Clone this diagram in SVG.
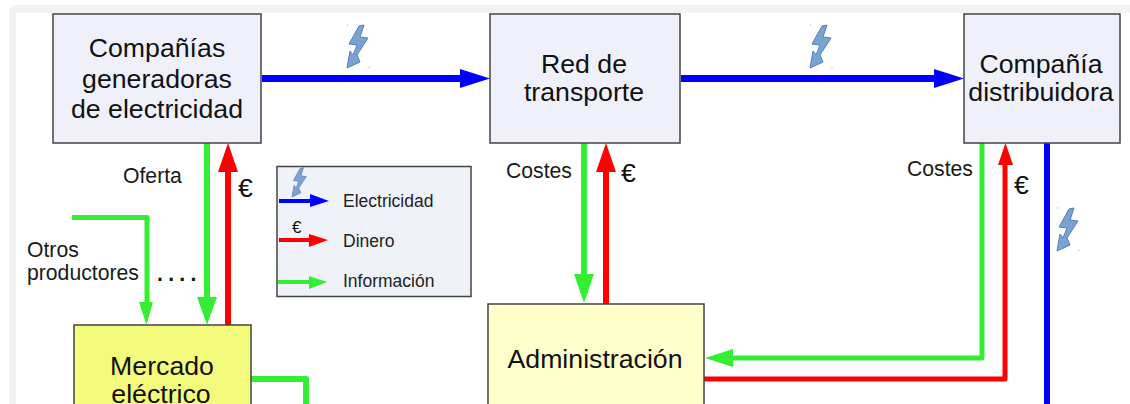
<svg xmlns="http://www.w3.org/2000/svg" width="1130" height="404" viewBox="0 0 1130 404">
<style>
text{font-family:"Liberation Sans",Arial,sans-serif;fill:#1a1a1a}
.node{stroke:#444;stroke-width:1.5}
.big{font-size:26.7px;text-anchor:middle;fill:#111}
.lab{font-size:21.2px}
.leg{font-size:17.5px;fill:#222}
.eur{font-size:26.500px;fill:#111}
.c{fill:none;stroke-linejoin:round}
.b{stroke:#0000ff}.r{stroke:#ff0000}.g{stroke:#33ee33}
.w7{stroke-width:7}.w6{stroke-width:6}.w5{stroke-width:5}
</style>
<defs>
<g id="bolt">
<polygon points="12,2 17,1 13,13 21,14 10,31 13,38 0,44 3,27 6,31 10,21 2,20" fill="#7ba3d0" stroke="#4f81bd" stroke-width="1"/>
<circle cx="0.500" cy="1" r="0.800" fill="#b5c8df"/>
<circle cx="22" cy="43.500" r="0.800" fill="#b5c8df"/>
</g>
</defs>
<rect width="1130" height="404" fill="#ffffff"/>
<path d="M9 404V12Q9 5 16 5H1130V13H16V404Z" fill="#f2f2f2"/>
<g id="connectors">
<path class="c b w7" d="M262 78.500H462"/><polygon fill="#0000ff" points="460,69 490,78.500 460,88"/>
<path class="c b w7" d="M681 78.500H936"/><polygon fill="#0000ff" points="934,69 964,78.500 934,88"/>
<path class="c b w6" d="M1047 143V404"/>
<path class="c g w6" d="M207 143V300"/><polygon fill="#33ee33" points="197,297 217,297 207,325"/>
<path class="c r w6" d="M228 325V170"/><polygon fill="#ff0000" points="218,172 238,172 228,143"/>
<path class="c g w5" d="M72 217.500H147V305"/><polygon fill="#33ee33" points="139,302 153,302 146.500,325" />
<path class="c g w6" d="M584 143V278"/><polygon fill="#33ee33" points="574,274 594,274 584,303"/>
<path class="c r w6" d="M606 304V170"/><polygon fill="#ff0000" points="596,172 616,172 606,143"/>
<path class="c g w5" d="M982 143V358H730"/><polygon fill="#33ee33" points="733,349 733,367 705,358"/>
<path class="c r w5" d="M704 379H1005V165"/><polygon fill="#ff0000" points="998,165 1013,165 1005.500,143"/>
<path class="c g w6" d="M251 379H306V404"/>
</g>
<g id="node-generadoras">
<rect class="node" x="53" y="14" width="208" height="129" fill="#f0f0fb"/>
<text class="big" x="157" y="57">Compañías</text>
<text class="big" x="157" y="88">generadoras</text>
<text class="big" x="157" y="118">de electricidad</text>
</g>
<g id="node-transporte">
<rect class="node" x="490" y="14" width="190" height="129" fill="#f0f0fb"/>
<text class="big" x="584" y="73">Red de</text>
<text class="big" x="584" y="101">transporte</text>
</g>
<g id="node-distribuidora">
<rect class="node" x="964" y="14" width="156" height="129" fill="#f0f0fb"/>
<text class="big" x="1041" y="73">Compañía</text>
<text class="big" x="1041" y="101">distribuidora</text>
</g>
<g id="node-mercado">
<rect class="node" x="74" y="325" width="177" height="90" fill="#f4fb7c"/>
<text class="big" x="162" y="375">Mercado</text>
<text class="big" x="161" y="403">eléctrico</text>
</g>
<g id="node-administracion">
<rect class="node" x="488" y="304" width="216" height="110" fill="#ffffcb"/>
<text class="big" x="595" y="368">Administración</text>
</g>
<g id="legend">
<rect x="277" y="166.500" width="194" height="130" fill="#eff2f8" stroke="#444" stroke-width="1.500"/>
<path class="c b" stroke-width="4" d="M279 201H312"/><polygon fill="#0000ff" points="310,194 329,201 310,207"/>
<path class="c r" stroke-width="4" d="M279 240H312"/><polygon fill="#ff0000" points="309,234 328,240 309,247"/>
<path class="c g" stroke-width="4" d="M278 282H311"/><polygon fill="#33ee33" points="309,276 327,282 309,289"/>
<use href="#bolt" transform="translate(292,167) scale(0.680)"/>
<text class="eur" x="292" y="233" style="font-size:17px">€</text>
<text class="leg" x="343" y="207">Electricidad</text>
<text class="leg" x="343" y="247">Dinero</text>
<text class="leg" x="343" y="287">Información</text>
</g>
<g id="labels">
<use href="#bolt" transform="translate(347,24)"/>
<use href="#bolt" transform="translate(810,24)"/>
<use href="#bolt" transform="translate(1057,207)"/>
<text class="lab" x="123" y="183">Oferta</text>
<text class="eur" x="238" y="197">€</text>
<text class="lab" x="27" y="257">Otros</text>
<text class="lab" x="27" y="280">productores</text>
<text class="lab" x="157" y="281" style="letter-spacing:-0.300px;fill:#111;font-weight:bold">. . . .</text>
<text class="lab" x="506" y="178">Costes</text>
<text class="eur" x="621" y="182">€</text>
<text class="lab" x="907" y="176">Costes</text>
<text class="eur" x="1014" y="194">€</text>
</g>
</svg>
